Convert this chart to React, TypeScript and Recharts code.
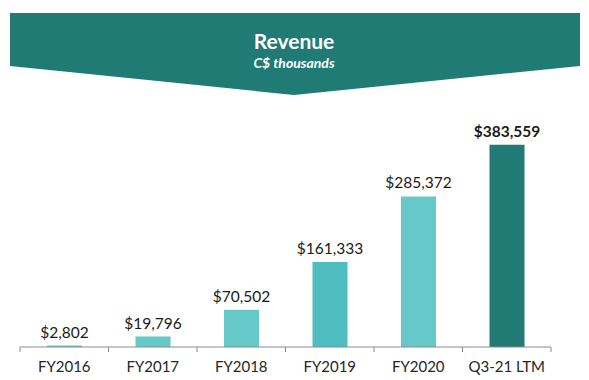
import { Bar, BarChart, Cell, LabelList, XAxis, YAxis } from "recharts";

const CATEGORIES = ["FY2016", "FY2017", "FY2018", "FY2019", "FY2020", "Q3-21 LTM"];
const REVENUE = [2802, 19796, 70502, 161333, 285372, 383559];
const BAR_COLORS = ["#66c8c8", "#66c8c8", "#66c8c8", "#4dbdbf", "#66c8c8", "#217a74"];

const data = CATEGORIES.map((name, i) => ({ name, revenue: REVENUE[i] }));

const W = 589;
const H = 380;
const LEFT = 20;
const RIGHT = 38;
const BAND = (W - LEFT - RIGHT) / CATEGORIES.length;
const FONT = "Lato, 'Open Sans', sans-serif";

const fmt = (v: number) => "$" + v.toLocaleString("en-US");

const AxisTick = (props: any) => {
  const { x, y, payload, index } = props;
  const axisY = y - 8;
  const last = index === CATEGORIES.length - 1;
  return (
    <g>
      <line x1={x - BAND / 2} x2={x - BAND / 2} y1={axisY} y2={axisY + 5} stroke="#8c8c8c" />
      {last && (
        <line x1={x + BAND / 2} x2={x + BAND / 2} y1={axisY} y2={axisY + 5} stroke="#8c8c8c" />
      )}
      <text x={x} y={axisY + 25} textAnchor="middle" fontSize={15} fill="#262626" fontFamily={FONT}>
        {payload.value}
      </text>
    </g>
  );
};

const ValueLabel = (props: any) => {
  const { x, y, width, value, index } = props;
  const last = index === REVENUE.length - 1;
  return (
    <text
      x={x + width / 2}
      y={y - 8}
      textAnchor="middle"
      fontSize={15.5}
      fontWeight={last ? 700 : 400}
      fill="#1a1a1a"
      fontFamily={FONT}
    >
      {fmt(value)}
    </text>
  );
};

const App = () => {
  return (
    <div style={{ position: "absolute", left: 0, top: 0, width: W, height: H, background: "#fff" }}>
      <svg width={W} height={100} style={{ position: "absolute", left: 0, top: 0 }}>
        <polygon points="10,13 580,13 580,66 294,95 10,66" fill="#1f7b74" />
        <text x={294} y={49} textAnchor="middle" fill="#fff" fontSize={21} fontWeight={700} fontFamily={FONT}>
          Revenue
        </text>
        <text x={294} y={68} textAnchor="middle" fill="#fff" fontSize={14} fontWeight={700} fontStyle="italic" fontFamily={FONT}>
          C$ thousands
        </text>
      </svg>
      <BarChart
        width={W}
        height={H}
        data={data}
        margin={{ top: 136, right: RIGHT, bottom: 3, left: LEFT }}
        barCategoryGap={0}
      >
        <XAxis
          dataKey="name"
          height={30}
          tickLine={false}
          axisLine={{ stroke: "#8c8c8c" }}
          tick={<AxisTick />}
          interval={0}
        />
        <YAxis hide domain={[0, 400000]} />
        <Bar dataKey="revenue" barSize={35} isAnimationActive={false}>
          {data.map((d, i) => (
            <Cell key={d.name} fill={BAR_COLORS[i]} />
          ))}
          <LabelList dataKey="revenue" content={<ValueLabel />} />
        </Bar>
      </BarChart>
    </div>
  );
};

export default App;
